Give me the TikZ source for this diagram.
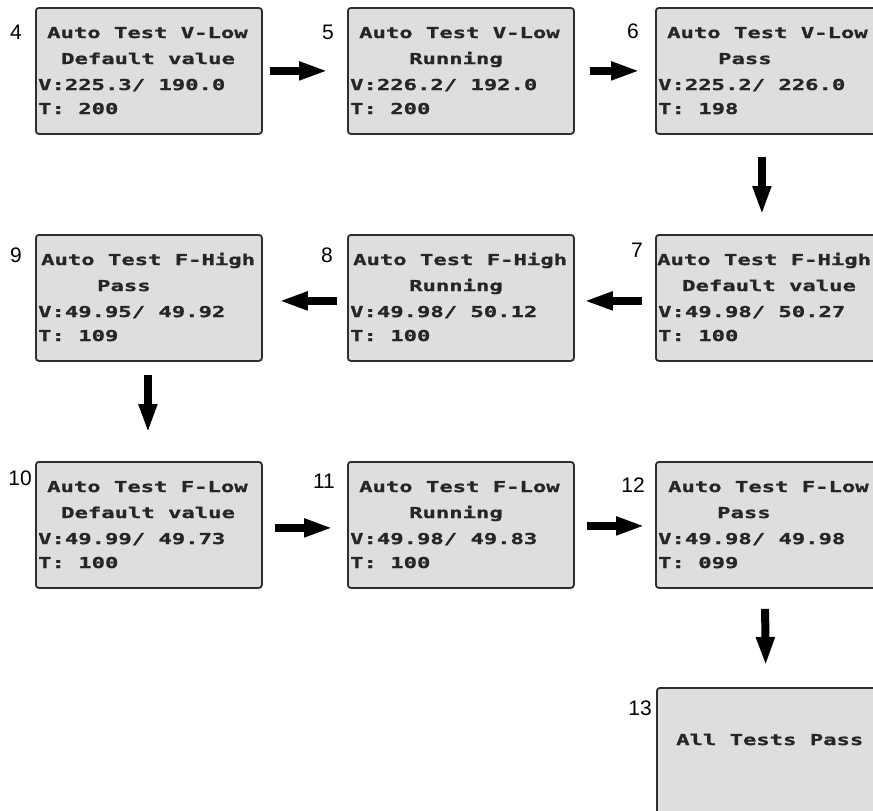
\documentclass[tikz,border=0pt]{standalone}
\usepackage{fontspec}
\setmainfont{Liberation Sans}
\newfontfamily\lcdfont[FakeStretch=1.48,FakeBold=1.2,UprightFont={* Bold}]{DejaVu Sans Mono}
\usetikzlibrary{arrows.meta}
\definecolor{panelfill}{HTML}{DEDEDE}
\definecolor{panelborder}{HTML}{2E2E2E}
\definecolor{lcdtext}{HTML}{262626}
\tikzset{
  panel/.style={rectangle, anchor=north west, minimum width=226pt, minimum height=126pt,
    inner sep=0pt, rounded corners=3pt, draw=panelborder, line width=1.8pt, fill=panelfill},
  lcdtxt/.style={anchor=base west, inner sep=0pt, text=lcdtext,
    font=\lcdfont\fontsize{15}{15}\selectfont},
  numlabel/.style={anchor=base east, inner sep=0pt, font=\fontsize{21}{21}\selectfont},
  flowarrow/.style={line width=8pt, draw=black,
    -{Triangle[length=29pt, width=17pt]}}
}
\newcommand\lcdpanel[8]{%
  \node[panel] (#1) at (#2,#3) {};
  \node[lcdtxt] at ([xshift=#4pt,yshift=-31pt]#1.north west) {#5};
  \node[lcdtxt] at ([xshift=#6pt,yshift=-57pt]#1.north west) {#7};
  \node[lcdtxt] at ([xshift=3pt,yshift=-83pt]#1.north west) {#8};
}
\newcommand\lcdtline[2]{%
  \node[lcdtxt] at ([xshift=3pt,yshift=-107pt]#1.north west) {#2};
}
\begin{document}
\begin{tikzpicture}[x=1pt,y=-1pt]
\useasboundingbox (0,0) rectangle (873,811);
\clip (0,0) rectangle (873,811);
% row 1
\lcdpanel{b4}{35}{7}{12}{Auto Test V-Low}{26}{Default value}{V:225.3/ 190.0}
\lcdtline{b4}{T: 200}
\lcdpanel{b5}{347}{7}{12}{Auto Test V-Low}{62}{Running}{V:226.2/ 192.0}
\lcdtline{b5}{T: 200}
\lcdpanel{b6}{655}{7}{12}{Auto Test V-Low}{63}{Pass}{V:225.2/ 226.0}
\lcdtline{b6}{T: 198}
% row 2
\lcdpanel{b9}{35}{234}{6}{Auto Test F-High}{62}{Pass}{V:49.95/ 49.92}
\lcdtline{b9}{T: 109}
\lcdpanel{b8}{347}{234}{6}{Auto Test F-High}{62}{Running}{V:49.98/ 50.12}
\lcdtline{b8}{T: 100}
\lcdpanel{b7}{655}{234}{2}{Auto Test F-High}{27}{Default value}{V:49.98/ 50.27}
\lcdtline{b7}{T: 100}
% row 3
\lcdpanel{b10}{35}{461}{12}{Auto Test F-Low}{26}{Default value}{V:49.99/ 49.73}
\lcdtline{b10}{T: 100}
\lcdpanel{b11}{347}{461}{12}{Auto Test F-Low}{62}{Running}{V:49.98/ 49.83}
\lcdtline{b11}{T: 100}
\lcdpanel{b12}{655}{461}{13}{Auto Test F-Low}{62}{Pass}{V:49.98/ 49.98}
\lcdtline{b12}{T: 099}
% final
\node[panel] (b13) at (656,687) {};
\node[lcdtxt] at ([xshift=20pt,yshift=-58pt]b13.north west) {All Tests Pass};
% step numbers
\node[numlabel] (n4) at (22,39) {4};
\node[numlabel] (n5) at (334,39) {5};
\node[numlabel] (n6) at (639,38) {6};
\node[numlabel] (n7) at (643,257) {7};
\node[numlabel] (n8) at (333,262) {8};
\node[numlabel] (n9) at (22,262) {9};
\node[numlabel] (n10) at (32,485) {10};
\node[numlabel] (n11) at (335,488) {11};
\node[numlabel] (n12) at (645,492) {12};
\node[numlabel] (n13) at (652,715) {13};
% arrows
\draw[flowarrow, shorten <=7pt, shorten >=19pt] (b4.east) -- (b5.west);
\draw[flowarrow, shorten <=15pt, shorten >=15pt] (b5.east) -- (b6.west);
\draw[flowarrow, shorten <=22pt, shorten >=19pt] ([xshift=-7pt]b6.south) -- ([xshift=-7pt]b7.north);
\draw[flowarrow, shorten <=13pt, shorten >=9pt] ([yshift=-3pt]b7.west) -- ([yshift=-3pt]b8.east);
\draw[flowarrow, shorten <=10pt, shorten >=16pt] ([yshift=-3pt]b8.west) -- ([yshift=-3pt]b9.east);
\draw[flowarrow, shorten <=13pt, shorten >=28pt] ([xshift=-1pt]b9.south) -- ([xshift=-1pt]b10.north);
\draw[flowarrow, shorten <=12pt, shorten >=14pt] ([yshift=-3pt]b10.east) -- ([yshift=-3pt]b11.west);
\draw[flowarrow, shorten <=12pt, shorten >=10pt] ([yshift=-1pt]b11.east) -- ([yshift=-1pt]b12.west);
\draw[flowarrow, shorten <=20pt, shorten >=21pt] ([xshift=-4pt]b12.south) -- ([xshift=-4pt]b13.north);
\end{tikzpicture}
\end{document}
